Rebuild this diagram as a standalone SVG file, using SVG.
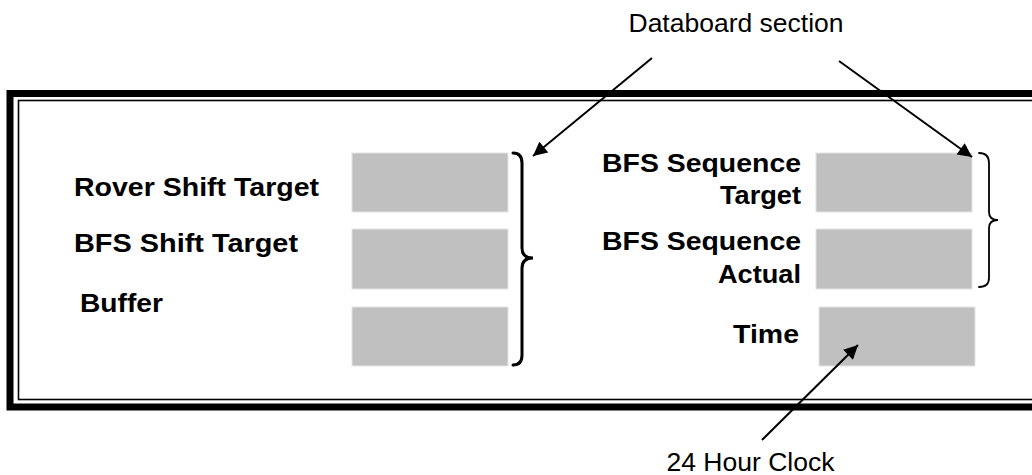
<svg xmlns="http://www.w3.org/2000/svg" width="1032" height="475" viewBox="0 0 1032 475">
<style>
.lbl{font-family:"Liberation Sans",Arial,sans-serif;font-size:26.5px;font-weight:bold;fill:#000}
.note{font-family:"Liberation Sans",Arial,sans-serif;font-size:25.5px;fill:#000}
.box{fill:#c0c0c0;stroke:#e4e4e4;stroke-width:1}
.brace{fill:none;stroke:#000;stroke-linecap:round}
.arr{stroke:#000;stroke-width:2;fill:none}
</style>
<defs>
<marker id="ah" viewBox="0 0 10 10" refX="10" refY="5" markerWidth="8" markerHeight="7" markerUnits="strokeWidth" orient="auto">
<path d="M0,0 L10,5 L0,10 Z" fill="#000"/>
</marker>
</defs>
<g id="frame">
<rect x="10" y="93.5" width="1060" height="313.5" fill="none" stroke="#000" stroke-width="7"/>
<rect x="18.5" y="100.5" width="1060" height="299" fill="none" stroke="#000" stroke-width="1.6"/>
</g>
<g id="left-column">
<g id="rover-shift-target"><rect class="box" x="352" y="153" width="156" height="59"/><text class="lbl" x="74" y="196" textLength="245" lengthAdjust="spacingAndGlyphs">Rover Shift Target</text></g>
<g id="bfs-shift-target"><rect class="box" x="352" y="229" width="156" height="60"/><text class="lbl" x="74" y="252" textLength="224" lengthAdjust="spacingAndGlyphs">BFS Shift Target</text></g>
<g id="buffer"><rect class="box" x="352" y="307" width="156" height="59"/><text class="lbl" x="80" y="312" textLength="83" lengthAdjust="spacingAndGlyphs">Buffer</text></g>
<path id="left-brace" class="brace" stroke-width="3" d="M513,153 Q522,153 522,163 L522,248 Q522,258 533,258 Q522,258 522,268 L522,355 Q522,365 513,365"/>
</g>
<g id="right-column">
<g id="bfs-sequence-target"><rect class="box" x="816" y="153" width="156" height="59"/><text class="lbl" text-anchor="end" x="801" y="172" textLength="199" lengthAdjust="spacingAndGlyphs">BFS Sequence</text><text class="lbl" text-anchor="end" x="801" y="204" textLength="81" lengthAdjust="spacingAndGlyphs">Target</text></g>
<g id="bfs-sequence-actual"><rect class="box" x="816" y="229" width="156" height="60"/><text class="lbl" text-anchor="end" x="801" y="250" textLength="199" lengthAdjust="spacingAndGlyphs">BFS Sequence</text><text class="lbl" text-anchor="end" x="801" y="283" textLength="83" lengthAdjust="spacingAndGlyphs">Actual</text></g>
<g id="time"><rect class="box" x="819" y="307" width="156" height="59"/><text class="lbl" text-anchor="end" x="799" y="343" textLength="66" lengthAdjust="spacingAndGlyphs">Time</text></g>
<path id="right-brace" class="brace" stroke-width="1.8" d="M979,153 Q989,153 989,163 L989,212 Q989,220 998,220 Q989,220 989,228 L989,278 Q989,287 979,287"/>
</g>
<g id="databoard-label"><text class="note" text-anchor="middle" x="736" y="32" textLength="215" lengthAdjust="spacingAndGlyphs">Databoard section</text></g>
<g id="clock-label"><text class="note" text-anchor="middle" x="750.5" y="471" textLength="168" lengthAdjust="spacingAndGlyphs">24 Hour Clock</text></g>
<g id="connectors">
<line class="arr" x1="652" y1="58" x2="533" y2="156" marker-end="url(#ah)"/>
<line class="arr" x1="839" y1="61" x2="972" y2="157" marker-end="url(#ah)"/>
<line class="arr" x1="762" y1="440" x2="858" y2="345" marker-end="url(#ah)"/>
</g>
</svg>
